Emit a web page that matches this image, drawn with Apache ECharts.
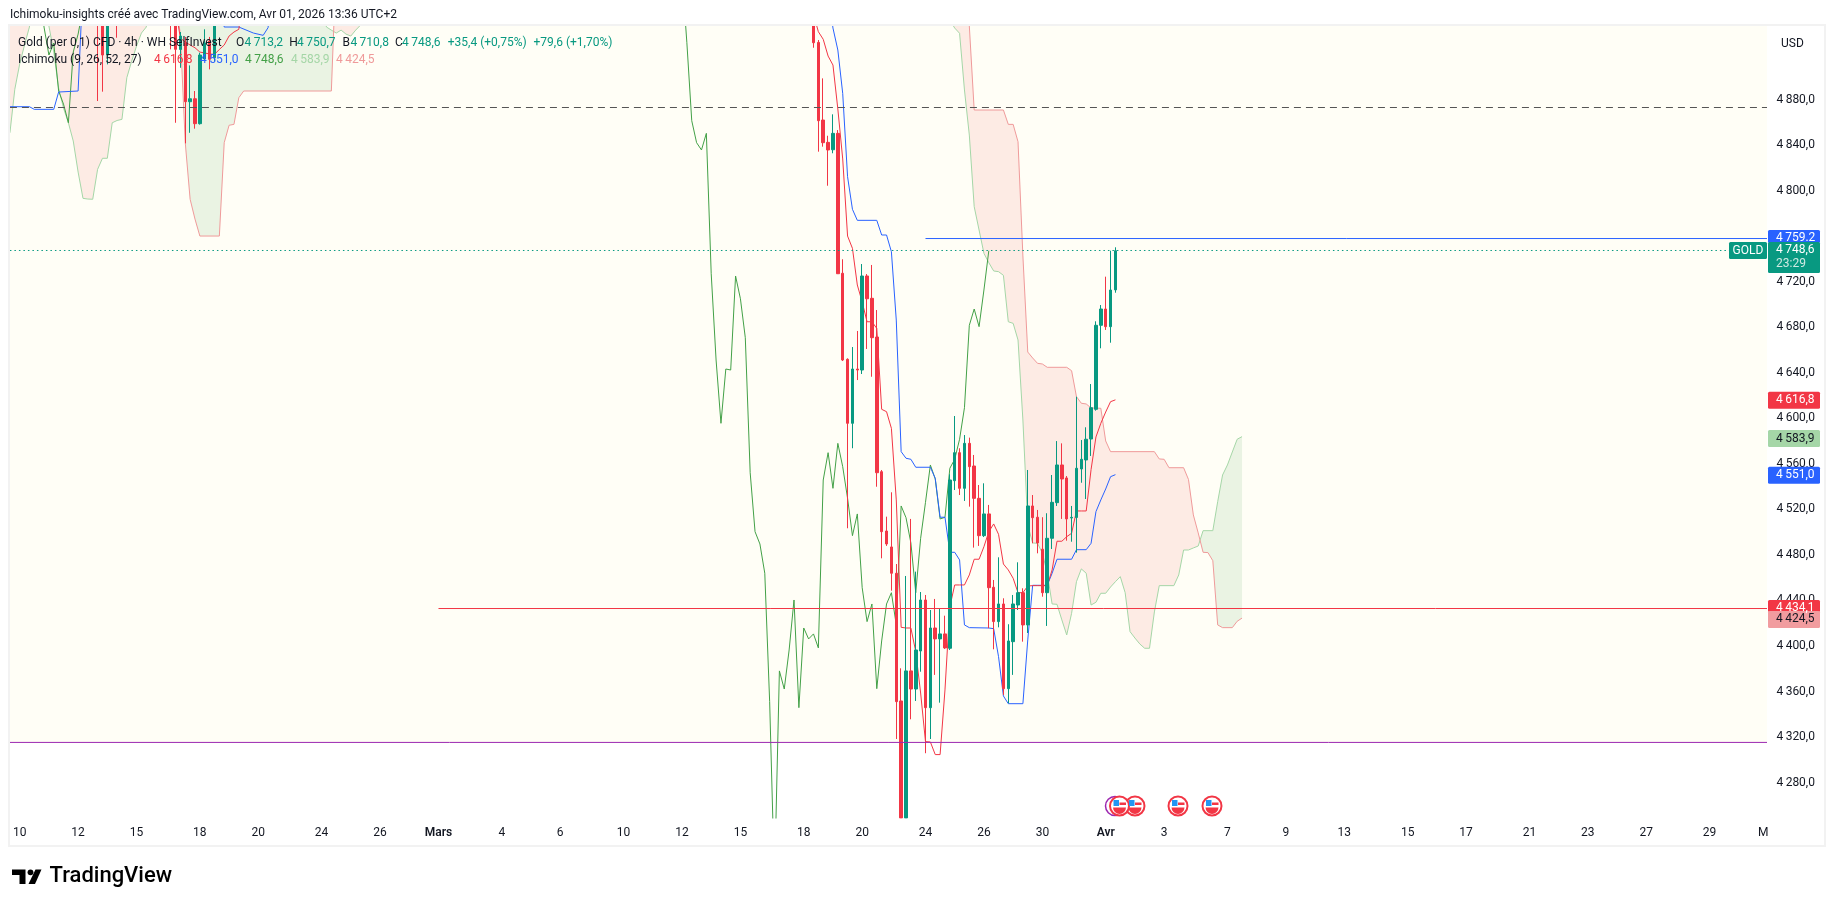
<!DOCTYPE html>
<html><head><meta charset="utf-8">
<style>html,body{margin:0;padding:0;background:#fff}#c{width:1835px;height:907px}</style>
<script src="https://cdn.jsdelivr.net/npm/echarts@6/dist/echarts.min.js"></script>
</head><body><div id="c"></div>
<script>
// x axis tick labels: [bar index, label]
const xTicks=[[2,'10'],[14,'12'],[26,'15'],[39,'18'],[51,'20'],[64,'24'],[76,'26'],[88,'Mars'],[101,'4'],[113,'6'],[126,'10'],[138,'12'],[150,'15'],[163,'18'],[175,'20'],[188,'24'],[200,'26'],[212,'30'],[225,'Avr'],[237,'3'],[250,'7'],[262,'9'],[274,'13'],[287,'15'],[299,'17'],[312,'21'],[324,'23'],[336,'27'],[349,'29'],[360,'M']];
const priceTicks=[4280,4320,4360,4400,4440,4480,4520,4560,4600,4640,4680,4720,4760,4800,4840,4880];
const BAR_COUNT=362;
// early candles, mostly above the visible range: [index, open, close, low, high]
const earlyCandles=[
[18,4990,4960,4878.7,5000],[19,4990,4919.1,4886.9,5000],[20,4919.1,4990,4910.9,5000],[22,4990,4960,4934.3,5000],
[33,4990,4950,4924.1,5000],[34,4990,4924.1,4859.6,5000],[35,4924,4935.8,4907.9,4939.3],[36,4929.9,4878.1,4841.5,4935],
[37,4878.1,4880.7,4850.8,4910],[38,4880.7,4858.8,4854.4,4887.5],[39,4858.8,4919.1,4858,4921.1],[40,4915.6,4929.6,4914.7,4941.7],
[41,4931.4,4915.3,4906.5,4935],[42,4916.7,4950,4913.8,4960]];
// recent candles from bar 165: [open, close, low, high]
const recentStart=165;
const recentCandles=[
[4960,4929.9,4925.5,4965],[4930.2,4861.4,4834.2,4932.3],[4862,4842.1,4838.6,4898.6],[4842.4,4835.7,4804.3,4848.2],
[4835.9,4850.3,4832.8,4867],[4850.3,4727,4726.8,4853.2],[4727.4,4651.2,4650.3,4739.7],[4651.8,4595.6,4503.4,4652.7],
[4595.6,4643.3,4573.7,4662.6],[4643.3,4642.4,4633.6,4676.7],[4642.4,4725,4638.9,4735.5],[4725,4705,4660.9,4726.7],
[4705.4,4670.8,4636.5,4734.7],[4671.4,4552.2,4539.9,4695.1],[4553.1,4500.4,4477,4554.6],[4501,4489.6,4487.9,4513.6],
[4487,4463.9,4448.6,4535],[4463.9,4351.1,4318.3,4472],[4351.7,4249,4249,4380.4],[4249,4378.1,4249,4461.5],
[4378.1,4362.2,4335.6,4511.6],[4362.2,4396.5,4351.7,4465.3],[4395.6,4440.4,4377.4,4447.4],[4440.4,4345.8,4305.8,4444.8],
[4345.8,4415.8,4318.3,4431.6],[4415.8,4406.2,4374.6,4441.3],[4406.2,4410.6,4350.2,4433.1],[4410.6,4398.3,4397.4,4426.6],
[4398,4545.8,4396.5,4550.8],[4545.2,4569.8,4537,4602],[4569.8,4538.5,4532.6,4573.7],[4538.5,4578,4527.4,4585.3],
[4578,4557.5,4522.4,4583],[4558.1,4529.7,4486.4,4567.8],[4529.7,4496.9,4487.9,4541.4],[4496.9,4516,4495.7,4542.9],
[4516,4451.2,4415.6,4523.9],[4451.6,4421.4,4397.1,4458],[4421.4,4436.9,4416.4,4477.9],[4436.9,4362.5,4357,4441.9],
[4362.5,4404.4,4349.7,4419.1],[4403.8,4436.9,4374.6,4444.8],[4436,4446.8,4431.6,4473.5],[4446.8,4418.5,4403.8,4450.7],
[4418.5,4523,4411.4,4554.6],[4523,4512.7,4490.2,4532.6],[4513.1,4490.5,4481.4,4519.5],[4485,4446.8,4443.3,4513.1],
[4446.8,4494.6,4417.6,4516.6],[4494.6,4526.2,4485.2,4550.2],[4525.9,4559,4523,4580],[4559,4546.7,4511.6,4578],
[4547.6,4511.6,4492.5,4549.3],[4512.4,4513,4491.6,4523],[4512.9,4556.1,4482,4619],[4555.5,4564,4543.4,4580.9],
[4563.4,4581.6,4529.1,4592.1],[4581.8,4609.3,4566.9,4630.1],[4607.9,4681.7,4606.7,4685.2],[4681.7,4696,4661.5,4699.5],
[4696,4680.5,4677.6,4724.4],[4680.5,4712.7,4666.4,4747.2],[4712.8,4747.2,4710.3,4750.2]];
// Ichimoku lines as [bar index, value]
const tenkan=[[34,4960],[35,4934],[36,4930.5],[37,4927.9],[38,4925.5],[39,4921.7],[40,4920.9],[41,4920],[42,4919.7],[43,4924],[44,4927.9],[45,4935.8],[46,4939.3],[47,4941.7],[48,4975],
[165,4955],[166,4939.6],[167,4932.9],[168,4918.2],[169,4910.3],[170,4871.7],[171,4827.8],[172,4760.1],[173,4749.3],[174,4717.1],[175,4702.2],[176,4684.8],[177,4684.8],[178,4679],[179,4607.9],[180,4605.8],[181,4591.2],[182,4528.3],[183,4416.4],[184,4415.8],[185,4415.8],[186,4395],[187,4358.7],[188,4316],[189,4315.7],[190,4304.6],[191,4304.6],[192,4361.4],[193,4434.5],[194,4453.6],[195,4453.6],[196,4453.6],[197,4462.4],[198,4476.2],[199,4476.2],[200,4487.2],[201,4500.4],[202,4507.2],[203,4498.1],[204,4472],[205,4466.8],[206,4459.5],[207,4446.8],[208,4446.8],[209,4452.7],[210,4453],[211,4453],[212,4453],[213,4453],[214,4466.8],[215,4492],[216,4492],[217,4496],[218,4499],[219,4518.6],[220,4518.6],[221,4518.6],[222,4555],[223,4583.6],[224,4595.6],[225,4605.5],[226,4614.6],[227,4616.2]];
const kijun=[[0,4873.7],[4,4873.7],[5,4871.4],[9,4871.4],[10,4886.6],[14,4887.5],[15,4982],[43,4975],[44,4943.7],[47,4943.7],[50,4938.4],[52,4936.4],[53,4943.1],[54,4975],
[168,4975],[169,4942.8],[170,4923.5],[171,4885.4],[172,4812.2],[173,4783.6],[174,4773.9],[178,4773.9],[179,4761],[180,4761],[181,4746.3],[182,4686.3],[183,4570.7],[184,4564.9],[185,4564],[186,4557],[189,4557],[190,4547.3],[191,4513.1],[192,4513.1],[193,4482.3],[194,4482.3],[195,4475.6],[196,4418.5],[197,4416.1],[201,4415.8],[202,4415.2],[203,4390.6],[204,4356.1],[205,4349.3],[208,4349.3],[209,4405.3],[210,4453.3],[213,4453.3],[214,4463.9],[215,4476.2],[218,4476.2],[219,4484.6],[221,4484.6],[222,4490.2],[223,4518],[224,4528.3],[225,4537.9],[226,4548.7],[227,4550.5]];
const chikouEarly=[[6,4990],[7,4943.7],[8,4919.1],[9,4929.6],[10,4887.5],[11,4876],[12,4859.6],[13,4921.7],[14,4937.5],[15,4960]];
const chikouStart=139;
const chikouRecent=[4929.9,4861.4,4842.1,4835.7,4850.3,4727,4651.2,4595.6,4643.3,4642.4,4725,4705,4670.8,4552.2,4500.4,4489.6,4463.9,4351.1,4193,4378.1,4362.2,4396.5,4440.4,4345.8,4415.8,4406.2,4410.6,4398.3,4545.8,4569.8,4538.5,4578,4557.5,4529.7,4496.9,4516,4451.2,4421.4,4436.9,4362.5,4404.4,4436.9,4446.8,4418.5,4523,4512.7,4490.5,4446.8,4494.6,4526.2,4559,4546.7,4511.6,4513,4556.1,4564,4581.6,4609.3,4681.7,4696,4680.5,4712.7,4747.2];
const senkouA=[[0,4850.8],[1,4889],[2,4911.2],[3,4927.9],[4,4943.7],[5,4980],[7,4980],[8,4944.6],[9,4921.7],[10,4890.1],[11,4872.5],[12,4859.6],[13,4843.6],[14,4816.3],[15,4793.2],[16,4792.6],[17,4792.4],[18,4818.7],[19,4828.4],[20,4828.4],[21,4859.6],[22,4861.6],[23,4862.6],[24,4899.2],[25,4913.8],[26,4927],[27,4938.4],[28,4943.7],[29,5000],[34,5010],[63,5000],[64,4960],[65,4943.7],[66,4941],[67,4938.4],[68,4941],[69,4937.5],[70,4935.8],[71,4941],[72,4945.4],[73,4990],[192,4990],[193,4949.8],[194,4942.8],[195,4938.2],[196,4888.4],[197,4848.8],[198,4785.9],[199,4765.4],[200,4744.9],[201,4736.7],[202,4729.4],[203,4728.8],[204,4725.6],[205,4684.8],[206,4683.4],[207,4668.8],[208,4598.5],[209,4506.3],[210,4490.5],[211,4490.2],[212,4481.7],[213,4463.9],[214,4436.9],[215,4436.6],[216,4422.9],[217,4409.7],[218,4428.7],[219,4456.5],[220,4467.7],[221,4463.9],[222,4436],[223,4438.4],[224,4446.3],[225,4446.3],[226,4451.8],[227,4456.5],[228,4460.9],[229,4446.8],[230,4412.6],[231,4407],[232,4401.8],[233,4398],[234,4398],[235,4429.9],[236,4453],[239,4453],[240,4462.4],[241,4484.3],[242,4484.3],[243,4486.1],[244,4487.8],[245,4501.3],[247,4501.3],[248,4526.8],[249,4550.2],[250,4559],[251,4570.4],[252,4581.6],[253,4583.9]];
const senkouB=[[0,5100],[28,5100],[34,4970],[35,4936.7],[36,4842.1],[37,4792.4],[38,4775],[39,4760.1],[43,4760.1],[44,4842.1],[45,4857.4],[46,4858.2],[47,4881.6],[48,4887.5],[66,4887.5],[67,5000],[68,5100],[195,5100],[196,5000],[197,4944.6],[198,4870.8],[204,4870.8],[205,4858.2],[206,4858.2],[207,4842.9],[208,4742.6],[209,4658.2],[210,4653],[211,4648.3],[212,4647.7],[213,4644.8],[217,4644.8],[218,4641.8],[219,4619],[220,4613.2],[221,4612.6],[222,4609.1],[224,4608.8],[225,4580.1],[226,4570.7],[235,4570.7],[236,4564.3],[237,4564],[238,4556.6],[241,4556.6],[242,4546.3],[243,4515.1],[244,4499.3],[245,4482.3],[246,4482],[247,4474.9],[248,4418.5],[249,4416.1],[251,4416.1],[252,4421.7],[253,4424.5]];
// horizontal levels
const levelDashed=4873, levelBid=4747.4, levelBlue=4757.9, levelRed=4432.9, levelPurple=4315.3;
const levelBlueFrom=188, levelRedFrom=88;
const yMin=4248.9, yMax=4944.6;

const FONT='Roboto';
const TH='\u2009';
function fmt(v){const s=v.toFixed(1).replace('.',',');return s[0]+TH+s.slice(1);}

const categories=new Array(BAR_COUNT).fill('');
xTicks.forEach(t=>categories[t[0]]=t[1]);

const candleData=new Array(BAR_COUNT).fill(0).map(()=>['-','-','-','-']);
earlyCandles.forEach(c=>candleData[c[0]]=c.slice(1));
recentCandles.forEach((c,i)=>candleData[recentStart+i]=c);

const chikou=chikouEarly.concat([[138,4990]],chikouRecent.map((v,i)=>[chikouStart+i,v]));

function at(list,i){
  for(let k=0;k<list.length-1;k++){
    const a=list[k],b=list[k+1];
    if(i>=a[0]&&i<=b[0])return a[1]+(b[1]-a[1])*(i-a[0])/(b[0]-a[0]);
  }
  return null;
}
const PINK='#FDEBE4',LGREEN='#EAF3E3';
function renderCloud(params,api){
  const runs=[];let cur=null;
  function push(sign,pa,pb){
    if(!cur||cur.sign!==sign){
      if(cur)runs.push(cur);
      cur={sign,top:[],bot:[]};
    }
    cur.top.push(pa);cur.bot.push(pb);
  }
  for(let i=0;i<253;i++){
    const a0=at(senkouA,i),b0=at(senkouB,i),a1=at(senkouA,i+1),b1=at(senkouB,i+1);
    const A0=api.coord([i,a0]),B0=api.coord([i,b0]),A1=api.coord([i+1,a1]),B1=api.coord([i+1,b1]);
    const d0=a0-b0,d1=a1-b1,s0=d0>=0?1:-1,s1=d1>=0?1:-1;
    push(s0,A0,B0);
    if(s0!==s1){
      const t=d0/(d0-d1);
      const X=[A0[0]+t*(A1[0]-A0[0]),A0[1]+t*(A1[1]-A0[1])];
      push(s0,X,X);push(s1,X,X);
    }
    if(i===252)push(s1,A1,B1);
  }
  if(cur)runs.push(cur);
  return {type:'group',children:runs.map(r=>({type:'polygon',shape:{points:r.top.concat(r.bot.slice().reverse())},style:{fill:r.sign>0?LGREEN:PINK}}))};
}
function renderCream(params,api){
  const c=params.coordSys;
  const yt=api.coord([0,yMax])[1],yb=api.coord([0,levelPurple])[1];
  return {type:'rect',shape:{x:c.x,y:yt,width:c.width,height:yb-yt},style:{fill:'#FFFEF6'}};
}
function ln(name,data,color,z,extra){
  return Object.assign({type:'line',name,data,showSymbol:false,symbol:'none',silent:true,connectNulls:true,animation:false,z,
    lineStyle:{color,width:1},itemStyle:{color}},extra||{});
}
function t(x,y,s,fill,o){
  return {type:'text',x,y,z:50,silent:true,style:Object.assign({text:s,fill,font:'12px '+FONT,textVerticalAlign:'middle',textAlign:'left'},o||{})};
}
function tag(x,y,w,h,fill){return {type:'rect',z:40,silent:true,shape:{x,y,width:w,height:h,r:1.5},style:{fill}};}
function flag(cx,cy){
  return [
   {type:'circle',z:44,silent:true,shape:{cx,cy,r:9.5},style:{fill:'#fff',stroke:'#F23645',lineWidth:2}},
   {type:'sector',z:45,silent:true,shape:{cx,cy:cy+1.5,r:6.5,r0:0,startAngle:0,endAngle:Math.PI},style:{fill:'#F23645'}},
   {type:'rect',z:45,silent:true,shape:{x:cx-6,y:cy-6,width:5.5,height:6},style:{fill:'#2196F3'}},
   {type:'rect',z:45,silent:true,shape:{x:cx,y:cy-3.5,width:6.5,height:2.5},style:{fill:'#F23645'}}
  ];
}
const G='#089981',R='#F23645',INK='#131722';
const graphics=[
 {type:'rect',z:30,silent:true,shape:{x:0,y:0,width:1835,height:25},style:{fill:'#fff'}},
 {type:'rect',z:30,silent:true,shape:{x:0,y:24,width:10,height:824},style:{fill:'#fff'}},
 {type:'rect',z:30,silent:true,shape:{x:1767,y:24,width:4,height:795},style:{fill:'#fff'}},
 {type:'rect',z:31,silent:true,shape:{x:9,y:25,width:1816,height:821},style:{fill:'none',stroke:'#F2F2F2',lineWidth:2}},
 t(10,15,'Ichimoku-insights créé avec TradingView.com, Avr 01, 2026 13:36 UTC+2',INK),
 t(18,42.5,'Gold (per 0,1) CFD · 4h · WH SelfInvest',INK),
 t(236,42.5,'O',INK),t(244.5,42.5,'4'+TH+'713,2',G),
 t(289.3,42.5,'H',INK),t(297,42.5,'4'+TH+'750,7',G),
 t(342.4,42.5,'B',INK),t(350.4,42.5,'4'+TH+'710,8',G),
 t(395,42.5,'C',INK),t(402,42.5,'4'+TH+'748,6',G),
 t(447.8,42.5,'+35,4 (+0,75%)',G),t(533.5,42.5,'+79,6 (+1,70%)',G),
 t(18,59.5,'Ichimoku (9, 26, 52, 27)',INK),
 t(154,59.5,'4'+TH+'616,8',R),t(200,59.5,'4'+TH+'551,0','#2962FF'),t(245,59.5,'4'+TH+'748,6','#43A047'),t(291,59.5,'4'+TH+'583,9','#A5D6A7'),t(336,59.5,'4'+TH+'424,5','#EF9A9A'),
 t(1781,44,'USD',INK),
 tag(1768,230,52,13,'#2962FF'),t(1776,237.5,'4'+TH+'759.2','#fff'),
 tag(1768,242,52,31,G),t(1776,250,'4'+TH+'748,6','#fff'),t(1776,263.5,'23:29','#CFE9E2'),
 tag(1729,242,38,17,G),t(1748,250.5,'GOLD','#fff',{textAlign:'center'}),
 tag(1768,391.7,52,17,R),t(1776,400,'4'+TH+'616,8','#fff'),
 tag(1768,430,52,17,'#A5D6A7'),t(1776,438.5,'4'+TH+'583,9',INK),
 tag(1768,466.7,52,17,'#2962FF'),t(1776,475,'4'+TH+'551,0','#fff'),
 tag(1768,600,52,12,R),t(1776,607.7,'4'+TH+'434,1','#fff'),
 tag(1768,611,52,17,'#F19C9F'),t(1776,619.3,'4'+TH+'424,5',INK),
 {type:'circle',z:43,silent:true,shape:{cx:1115,cy:806,r:9.5},style:{fill:'#fff',stroke:'#9C27B0',lineWidth:1.5}},
 ...flag(1135,806),...flag(1119.5,806),...flag(1178,806),...flag(1212,806),
 {type:'polygon',z:50,silent:true,shape:{points:[[12,869.5],[25.5,869.5],[25.5,884],[19.5,884],[19.5,875],[12,875]]},style:{fill:'#000'}},
 {type:'circle',z:50,silent:true,shape:{cx:30.5,cy:872.3,r:2.9},style:{fill:'#000'}},
 {type:'polygon',z:50,silent:true,shape:{points:[[35.5,869.5],[41.5,869.5],[35,884],[28.5,884]]},style:{fill:'#000'}},
 t(49.5,876.5,'TradingView','#000',{font:'500 22px '+FONT})
];
const chart=echarts.init(document.getElementById('c'),null,{renderer:'canvas'});
chart.setOption({
 animation:false,backgroundColor:'#fff',
 grid:{left:7.5,top:26,width:BAR_COUNT*4.87,height:792,containLabel:false},
 tooltip:{show:false},legend:{show:false},
 xAxis:{type:'category',data:categories,boundaryGap:true,axisLine:{show:false},axisTick:{show:false},splitLine:{show:false},
  axisLabel:{interval:(i,v)=>v!=='',margin:9,fontFamily:FONT,fontSize:12,color:INK,
   formatter:v=>(v==='Mars'||v==='Avr')?'{b|'+v+'}':v,rich:{b:{fontFamily:FONT,fontSize:12,fontWeight:600,color:INK}}}},
 yAxis:{type:'value',position:'right',min:yMin,max:yMax,scale:true,axisLine:{show:false},axisTick:{show:false},splitLine:{show:false},
  axisLabel:{customValues:priceTicks,margin:6,padding:[2,0,0,0],fontFamily:FONT,fontSize:12,color:INK,formatter:v=>fmt(v)}},
 series:[
  {type:'custom',name:'Background',silent:true,z:0,renderItem:renderCream,data:[[0]],clip:true,animation:false},
  {type:'custom',name:'Kumo',silent:true,z:1,renderItem:renderCloud,data:[[0]],clip:true,animation:false},
  ln('Senkou A',senkouA,'#A5D6A7',2),
  ln('Senkou B',senkouB,'#EF9A9A',2),
  ln('Chikou',chikou,'#43A047',3),
  ln('Kijun',kijun,'#2962FF',3),
  ln('Tenkan',tenkan,'#F23645',3),
  {type:'candlestick',name:'Gold',data:candleData,barWidth:3,z:4,silent:true,animation:false,
   itemStyle:{color:G,color0:R,borderColor:G,borderColor0:R,borderWidth:1}},
  ln('Dashed level',[[0,levelDashed],[361,levelDashed]],'#555',5,{lineStyle:{color:'#555',width:1,type:[7,5]}}),
  ln('Bid',[[0,levelBid],[361,levelBid]],G,5,{lineStyle:{color:G,width:1,type:[1.5,3]}}),
  ln('Blue level',[[levelBlueFrom,levelBlue],[361,levelBlue]],'#2962FF',5),
  ln('Red level',[[levelRedFrom,levelRed],[361,levelRed]],'#F23645',5),
  ln('Purple level',[[0,levelPurple],[361,levelPurple]],'#9C27B0',5)
 ],
 graphic:graphics
});
</script></body></html>
